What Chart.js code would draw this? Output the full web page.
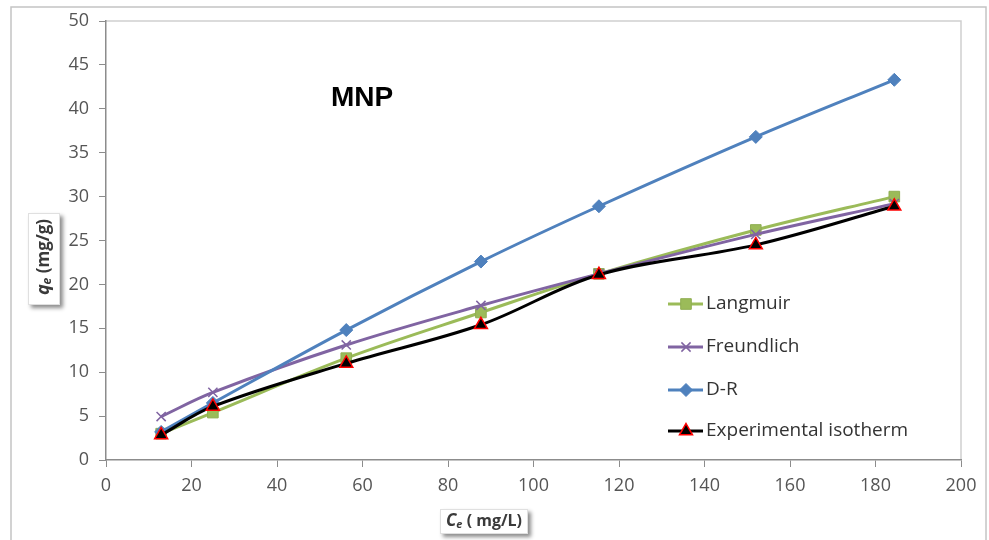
<!DOCTYPE html>
<html>
<head>
<meta charset="utf-8">
<script src="https://cdn.jsdelivr.net/npm/chart.js@4.4.1/dist/chart.umd.min.js"></script>
<style>
  html, body { margin: 0; padding: 0; background: #fff; }
  #chart { display: block; }
</style>
</head>
<body>
<canvas id="chart" width="989" height="540"></canvas>
<script>
// equilibrium concentration Ce (mg/L)
const ceValues = [12.9, 25.0, 56.2, 87.7, 115.3, 152.0, 184.4];

// qe (mg/g) for each isotherm model and the measured one
const langmuir = [3.0, 5.4, 11.6, 16.8, 21.2, 26.2, 30.0];
const freundlich = [4.95, 7.7, 13.1, 17.6, 21.2, 25.7, 29.2];
const dubininR = [3.2, 6.5, 14.8, 22.6, 28.9, 36.8, 43.3];
const experimental = [2.85, 6.1, 11.0, 15.4, 21.1, 24.5, 28.9];

const seriesNames = ['Langmuir', 'Freundlich', 'D-R', 'Experimental isotherm'];

const xTickValues = [0, 20, 40, 60, 80, 100, 120, 140, 160, 180, 200];
const yTickValues = [0, 5, 10, 15, 20, 25, 30, 35, 40, 45, 50];

const FONT = '"Open Sans", "Noto Sans", sans-serif';

const toPoints = ys => ys.map((y, i) => ({ x: ceValues[i], y: y }));

const datasets = [
  {
    label: seriesNames[0], data: toPoints(langmuir),
    borderColor: '#9BBB59', backgroundColor: '#9BBB59',
    pointStyle: 'rect', pointRadius: 7.5, pointBorderColor: '#8FAE52',
    pointBorderWidth: 1, order: 3
  },
  {
    label: seriesNames[1], data: toPoints(freundlich),
    borderColor: '#8064A2', backgroundColor: '#8064A2',
    pointStyle: 'crossRot', pointRadius: 6.5, pointBorderWidth: 1.5, order: 2
  },
  {
    label: seriesNames[2], data: toPoints(dubininR),
    borderColor: '#4F81BD', backgroundColor: '#4F81BD',
    pointStyle: 'rectRot', pointRadius: 6.5, pointBorderWidth: 1, order: 1
  },
  {
    label: seriesNames[3], data: toPoints(experimental),
    borderColor: '#000000', backgroundColor: '#000000',
    pointStyle: 'triangle', pointRadius: 7.5, pointBorderColor: '#FF0000',
    pointBorderWidth: 1.5, order: 0
  }
];
datasets.forEach(d => {
  d.showLine = true;
  d.borderWidth = 3;
  d.tension = 0.35;
  d.pointBackgroundColor = d.backgroundColor;
  if (!d.pointBorderColor) d.pointBorderColor = d.borderColor;
});

// white box with a soft drop shadow, used behind the axis titles
function shadowBox(ctx, x, y, w, h) {
  ctx.save();
  ctx.shadowColor = 'rgba(0,0,0,0.45)';
  ctx.shadowBlur = 4;
  ctx.shadowOffsetX = 3;
  ctx.shadowOffsetY = 3;
  ctx.fillStyle = '#fff';
  ctx.fillRect(x, y, w, h);
  ctx.restore();
  ctx.strokeStyle = '#e0e0e0';
  ctx.lineWidth = 1;
  ctx.strokeRect(x + 0.5, y + 0.5, w - 1, h - 1);
}

// text made of pieces (letter, subscript, rest), centred on 0,0
function richText(ctx, parts) {
  let total = 0;
  parts.forEach(p => { ctx.font = p.font; p.w = ctx.measureText(p.t).width; total += p.w; });
  let x = -total / 2;
  ctx.textBaseline = 'middle';
  ctx.textAlign = 'left';
  ctx.fillStyle = '#3a3a3a';
  parts.forEach(p => {
    ctx.font = p.font;
    ctx.fillText(p.t, x, p.dy || 0);
    x += p.w;
  });
}

const decorations = {
  id: 'decorations',
  beforeDraw(chart) {
    const ctx = chart.ctx;
    const a = chart.chartArea;
    ctx.save();
    ctx.fillStyle = '#fff';
    ctx.fillRect(0, 0, chart.width, chart.height);
    ctx.strokeStyle = '#c4c4c4';
    ctx.lineWidth = 1.5;
    ctx.strokeRect(11, 7, 975, 540);
    // plot area frame (top and right)
    ctx.strokeStyle = '#cfcfcf';
    ctx.lineWidth = 1.5;
    ctx.beginPath();
    ctx.moveTo(a.left, a.top);
    ctx.lineTo(a.right, a.top);
    ctx.lineTo(a.right, a.bottom);
    ctx.stroke();
    ctx.restore();
  },
  afterDraw(chart) {
    const ctx = chart.ctx;
    const a = chart.chartArea;

    // panel label
    ctx.save();
    ctx.font = 'bold 28px "Liberation Sans", Arial, sans-serif';
    ctx.fillStyle = '#000';
    ctx.textAlign = 'center';
    ctx.textBaseline = 'middle';
    ctx.fillText('MNP', a.left + 256, a.top + 77);
    ctx.restore();

    // y axis title
    ctx.save();
    shadowBox(ctx, 28, 213, 32, 92);
    ctx.translate(44, 257);
    ctx.rotate(-Math.PI / 2);
    richText(ctx, [
      { t: 'q', font: 'italic bold 18px ' + FONT },
      { t: 'e', font: 'italic bold 12px ' + FONT, dy: 4 },
      { t: ' (mg/g)', font: 'bold 17px ' + FONT }
    ]);
    ctx.restore();

    // x axis title
    ctx.save();
    shadowBox(ctx, 440, 509, 88, 25);
    ctx.translate(484, 521);
    richText(ctx, [
      { t: 'C', font: 'italic bold 17px ' + FONT },
      { t: 'e', font: 'italic bold 11px ' + FONT, dy: 4 },
      { t: ' ( mg/L)', font: 'bold 16px ' + FONT }
    ]);
    ctx.restore();

    // legend inside the plot area
    const rows = [304, 347, 390, 431];
    chart.data.datasets.forEach((d, i) => {
      const y = rows[i];
      ctx.save();
      ctx.strokeStyle = d.borderColor;
      ctx.lineWidth = 3;
      ctx.beginPath();
      ctx.moveTo(668, y);
      ctx.lineTo(703, y);
      ctx.stroke();
      ctx.fillStyle = d.pointBackgroundColor;
      ctx.strokeStyle = d.pointBorderColor;
      ctx.lineWidth = d.pointBorderWidth;
      Chart.helpers.drawPoint(ctx, {
        pointStyle: d.pointStyle, radius: d.pointRadius, rotation: 0,
        borderWidth: d.pointBorderWidth
      }, 686, y);
      ctx.font = '19px ' + FONT;
      ctx.fillStyle = '#333333';
      ctx.textAlign = 'left';
      ctx.textBaseline = 'middle';
      ctx.fillText(d.label, 706, y);
      ctx.restore();
    });
  }
};

const axisGrid = {
  drawOnChartArea: false,
  drawTicks: true,
  tickLength: 7,
  tickColor: '#8c8c8c'
};

new Chart(document.getElementById('chart'), {
  type: 'scatter',
  data: { datasets: datasets },
  options: {
    responsive: false,
    animation: false,
    devicePixelRatio: 1,
    layout: { padding: { left: 0, right: 28, top: 21, bottom: 0 } },
    plugins: {
      legend: { display: false },
      tooltip: { enabled: false }
    },
    scales: {
      x: {
        type: 'linear', min: 0, max: 200,
        afterBuildTicks: s => { s.ticks = xTickValues.map(v => ({ value: v })); },
        afterFit: s => { s.height = 80; },
        grid: axisGrid,
        border: { color: '#8c8c8c', width: 1.5 },
        ticks: { color: '#555555', padding: 8, font: { family: FONT, size: 18 }, maxRotation: 0 }
      },
      y: {
        type: 'linear', min: 0, max: 50,
        afterBuildTicks: s => { s.ticks = yTickValues.map(v => ({ value: v })); },
        afterFit: s => { s.width = 106; },
        grid: axisGrid,
        border: { color: '#8c8c8c', width: 1.5 },
        ticks: { color: '#555555', padding: 10, font: { family: FONT, size: 18 } }
      }
    }
  },
  plugins: [decorations]
});
</script>
</body>
</html>
